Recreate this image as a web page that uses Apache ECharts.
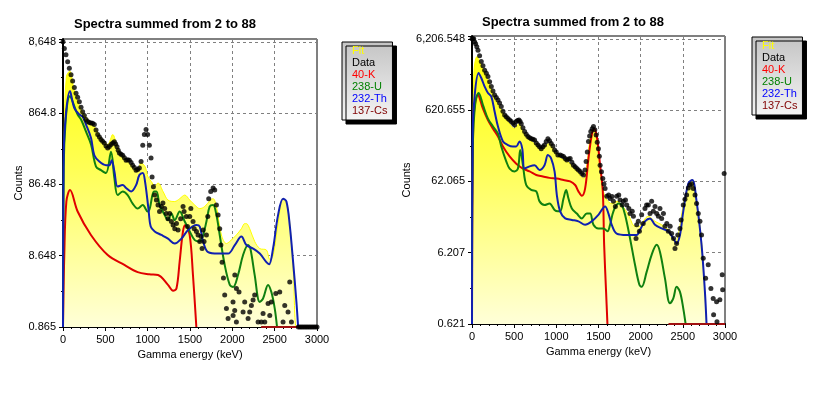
<!DOCTYPE html>
<html><head><meta charset="utf-8">
<script src="https://cdn.jsdelivr.net/npm/echarts@6/dist/echarts.min.js"></script>
<style>html,body{margin:0;padding:0;background:#fff}#c{width:817px;height:394px}</style>
</head><body><div id="c"></div>
<script>
// ---------- tick labels ----------
const xTicks = [0, 500, 1000, 1500, 2000, 2500, 3000];
const leftTickLabels = ['0.865', '8.648', '86.48', '864.8', '8,648'];
const rightTickLabels = ['0.621', '6.207', '62.065', '620.655', '6,206.548'];
const leftBase = 0.8648;
const rightBase = 0.6206548;
const titleText = 'Spectra summed from 2 to 88';
const legendNames = ['Fit', 'Data', '40-K', '238-U', '232-Th', '137-Cs'];
const legendColors = ['#ffff00', '#000000', '#ff0000', '#008000', '#0000ff', '#800000'];

// ---------- LEFT chart (energy keV, counts) ----------
const lDataE = [0,16,35,55,75,95,114,134,154,173,
193,213,232,252,272,291,311,330,350,370,
390,410,430,449,468,488,508,528,547,567,
587,607,622,638,652,666,685,705,725,745,
764,784,804,823,843,863,882,902,922,942,
961,981,1000,1020,1040,1052,1068,1083,1103,1122,
1140,1162,1180,1201,1220,1240,1260,1280,1300,1320,
1340,1359,1390,1418,1430,1457,1470,1497,1510,1536,
1550,1576,1595,1615,1630,1643,1655,1666,1694,1710,
1721,1745,1773,1792,1812,1832,1851,1865,1879,1895,
1910,1930,1950,2008,2009,2028,2029,2048,2048,2079,
2127,2146,2186,2205,2225,2245,2264,2304,2343,2363,
2383,2422,2442,2461,2513,2560,2599,2619,2658,2678,
2698,2780,2800,2820,2840,2860,2880,2900,2920,2940,
2960,2980,3000];
const lDataC = [8648,7000,5718,4538,3693,3000,2438,1984,1650,1450,
1252,1050,906,800,703,660,641,630,626,598,
500,433,400,369,350,329,300,280,295,314,
330,344,320,293,260,238,230,222,205,189,
192,189,175,161,150,137,140,147,181,307,
433,509,433,307,203,110,80,61.3,52.2,44.4,
36.1,42.4,47.6,39.6,33.7,28.6,33.7,26.1,23.3,20.7,
24.4,19.8,28.6,42.4,36.1,30.7,22.2,30.7,39.6,26.1,
20.7,18.9,16.9,13.7,16.1,10.9,19.8,13.7,16.9,30.7,
54.6,68.7,77.1,72.0,44.4,32.1,20.7,12.2,7.03,4.2,
2.44,1.57,1.14,1.94,1.25,1.47,4.63,3.00,1.016,2.67,
1.40,1.94,1.14,1.40,1.73,2.07,2.44,1.016,1.016,1.34,
1.016,1.85,1.25,1.94,2.55,2.67,1.016,1.73,1.40,3.69,
1.016,0.865,0.865,0.865,0.865,0.865,0.865,0.865,0.865,0.865,
0.865,0.865,0.865];

const lFitE = [0,15,40,79,134,213,291,370,449,528,
587,646,725,804,882,922,969,1004,1044,1083,
1122,1182,1240,1320,1378,1438,1497,1556,1615,1674,
1741,1773,1812,1871,1930,1969,2048,2107,2146,2166,
2205,2264,2324,2402,2442,2481,2540,2599,2658,2718,
2757,2800];
const lFitC = [0.865,500,2800,3368,1768,971,703,558,386,314,
433,280,203,161,137,173,154,110,95,81,
90.6,68.7,52.2,49.8,54.6,61.3,52.2,44.4,39.6,42.4,
52.2,54.6,42.4,16.9,12.8,13.7,16.9,20.7,24.4,24.4,
20.7,13.7,10.9,10.4,7.7,8.65,24.4,54.6,39.6,5.71,
0.865,0.865];

const lKE = [0,15,40,83,173,330,528,725,882,1020,
1122,1240,1300,1340,1378,1417,1445,1496,1535,1575];
const lKC = [0.865,8.65,50,72,36.1,16.9,8.85,6.41,5.08,4.74,
4.63,3.37,2.8,3.0,7.2,18.9,23.3,16.9,4.63,0.865];

const lUE = [0,8,83,173,213,272,331,390,449,508,
567,607,646,705,764,823,882,942,1000,1024,
1075,1103,1142,1201,1240,1280,1320,1378,1438,1497,
1556,1615,1655,1694,1733,1773,1812,1851,1910,1970,
2008,2067,2127,2186,2213,2264,2324,2363,2422,2461,
2501,2528];
const lUC = [0.865,150,1505,826,703,475,314,154,137,125,
249,106,61.3,68.7,61.3,46.5,39.6,44.4,36.1,39.6,
68.7,68.7,44.4,32.1,27.3,33.7,27.3,36.1,26.1,18.9,
14.3,13.7,16.9,26.1,42.4,44.4,32.1,16.9,6.41,3.37,
3.14,4.63,8.85,12.2,10.9,4.63,1.94,2.17,3.37,2.67,
1.57,0.865];

const lThE = [0,8,83,134,193,232,272,331,370,429,
508,548,575,607,646,705,745,804,863,902,
942,969,1009,1036,1083,1162,1240,1320,1398,1477,
1576,1615,1655,1714,1832,1950,2029,2107,2166,2245,
2324,2402,2434,2481,2540,2599,2639,2678,2718,2757,
2777];
const lThC = [0.865,222,1768,1017,826,771,598,386,222,181,
161,161,189,131,80.8,84.6,77.1,68.7,84.6,117,
125,94.9,39.6,22.2,18.9,16.9,15.0,12.8,15.0,19.8,
23.3,22.2,13.7,9.70,9.27,9.27,12.2,16.1,12.2,10.9,
9.27,7.03,6.56,10.9,32.1,54.6,49.8,23.3,7.03,1.94,
0.865];

const lCsE = [2340, 3000];
const lCsC = [0.865, 0.865];

// ---------- RIGHT chart ----------
const rDataE = [0,10,20,30,43,57,71,90,110,130,
150,170,189,209,229,249,268,288,308,327,
347,367,387,406,426,446,466,485,505,525,
540,557,570,584,604,624,643,663,683,703,
722,742,762,782,801,821,841,860,880,900,
919,939,959,979,999,1018,1045,1065,1085,1105,
1124,1144,1164,1184,1203,1223,1243,1262,1282,1302,
1322,1340,1353,1367,1381,1395,1409,1425,1440,1456,
1472,1485,1499,1510,1519,1535,1551,1565,1578,1598,
1620,1637,1660,1677,1700,1716,1740,1756,1780,1795,
1820,1835,1860,1874,1900,1914,1945,1953,1972,1985,
2012,2030,2051,2070,2091,2111,2130,2150,2170,2190,
2210,2229,2249,2270,2288,2310,2328,2350,2367,2390,
2407,2426,2440,2466,2480,2505,2525,2545,2565,2584,
2604,2624,2645,2663,2683,2703,2722,2742,2770,2801,
2833,2860,2865,2900,2905,2939,2967,2972,2990];
const rDataC = [6207,6207,6207,5661,5300,4800,4302,3600,2976,2600,
2257,2050,1835,1550,1329,1150,1008,930,858,780,
697,600,529,500,472,450,430,405,383,430,
445,450,430,401,350,311,285,265,255,247,
242,236,215,201,190,179,190,201,225,247,
230,211,195,171,160,146,146,142,139,130,
124,128,130,115,105,100,94,90,85.7,80,
76.4,90,118,160,226,270,311,340,366,330,
277,220,179,140,105,85,68.1,57,49.3,38.3,
40.1,35.7,38,32.6,27.7,38.3,40.1,34.1,29.0,32.6,
34.1,29.0,25.9,22.0,23.6,20.1,9.84,15.3,17.1,12.4,
21.1,16.0,25.9,29.0,29.0,22.0,32.6,23.6,27.7,22.0,
20.1,25.9,18.8,22.0,14.6,16.0,12.4,14.6,11.5,9.84,
7.13,8.38,11.0,13.6,17.9,29.0,35,40.1,50,55.3,
57,49.3,40,30.4,22,17.1,11.0,5.17,2.71,4.20,
1.96,1.42,0.838,1.27,0.665,1.36,3.04,1.88,80.0];

const rFitE = [0,20,59,110,189,268,347,426,505,557,
604,683,762,821,880,919,979,1018,1085,1164,
1243,1322,1361,1401,1440,1480,1519,1559,1598,1657,
1716,1776,1855,1933,1993,2012,2091,2170,2249,2328,
2407,2446,2505,2565,2604,2643,2703,2742,2781];
const rFitC = [0.621,1835,3497,2652,1635,919,621,430,341,401,
311,236,201,171,201,211,163,139,124,110,
85.7,68.1,105,247,326,247,94.0,45.0,34.1,30.4,
32.6,29.0,21.1,14.6,14.6,16.0,20.1,17.1,15.3,13.0,
8.77,11.0,29.0,55.3,65.0,45.0,15.3,4.20,0.621];

const rKE = [0,15,71,130,189,249,308,367,446,525,
604,683,762,841,919,1006,1085,1164,1223,1262,
1302,1341,1381,1420,1448,1480,1519,1551,1567,1590,
1606];
const rKC = [0.621,411,1031,650,450,341,265,192,139,110,
94.0,85.7,76.4,72.9,69.6,68.1,65.0,62.1,55.3,45.0,
39.1,49.3,130,277,341,265,105,45.0,8.00,1.75,
0.621];

const rUE = [0,10,40,79,130,189,249,308,347,407,
446,505,545,572,604,643,703,762,801,860,
919,979,1018,1045,1085,1116,1144,1184,1243,1302,
1361,1401,1440,1499,1559,1606,1637,1677,1736,1776,
1815,1874,1933,1985,2012,2071,2130,2190,2229,2288,
2347,2387,2426,2466,2505,2533];
const rUC = [2.20,200,800,1080,730,472,366,290,192,118,
94.0,85.7,94.0,171,105,55.3,47.1,45.0,32.6,29.0,
30.4,24.7,23.6,23.6,35.7,47.1,35.7,25.9,22.0,18.8,
22.0,22.0,15.3,13.6,13.6,12.4,15.3,23.6,30.4,29.0,
21.1,9.84,4.20,2.20,2.06,3.34,5.80,8.00,6.35,2.71,
1.21,1.42,2.06,1.75,1.03,0.621];

const rThE = [0,8,79,110,150,189,229,268,308,367,
426,485,525,564,596,624,683,742,801,860,
900,939,979,1006,1045,1105,1184,1262,1341,1420,
1499,1578,1618,1657,1716,1835,1953,1992,2051,2111,
2170,2249,2328,2387,2426,2466,2505,2565,2612,2663,
2722,2762,2781];
const rThC = [0.621,297,2059,1752,1329,1080,962,594,366,226,
201,192,192,226,179,94.0,101,105,89.8,105,
146,130,85.7,40,23.6,18.8,17.9,17.1,15.3,17.1,
21.1,27.7,22.0,15.3,11.5,11.0,11.0,13.0,17.1,18.8,
15.3,13.6,12.4,9.84,8.38,11.0,23.6,57.9,65.0,32.6,
8.00,1.75,0.621];

const rCsE = [2330, 3000];
const rCsC = [0.621, 0.621];

// ---------- build ----------
const FONT = '"Liberation Sans", Arial, sans-serif';
function toLog(E, C, base) {
  return E.map((e, i) => [e, Math.max(0, Math.log10(C[i] / base))]);
}
const gridsPx = [
  { left: 63, top: 39, width: 254, height: 288 },
  { left: 472, top: 36, width: 253, height: 288 }
];
function xAxisFor(gi) {
  return {
    type: 'value', gridIndex: gi, min: xTicks[0], max: xTicks[xTicks.length - 1],
    interval: xTicks[1] - xTicks[0],
    name: 'Gamma energy (keV)', nameLocation: 'middle', nameGap: 22,
    nameTextStyle: { color: '#000', fontSize: 11, fontFamily: FONT },
    axisLine: { show: true, onZero: false, lineStyle: { color: '#000', width: 2 } },
    axisTick: { show: true, length: 4, lineStyle: { color: '#000' } },
    minorTick: { show: true, splitNumber: 5, length: 2, lineStyle: { color: '#000' } },
    axisLabel: { color: '#000', fontSize: 11, fontFamily: FONT, margin: 7,
      formatter: function (v) { return String(Math.round(v)); } },
    splitLine: { show: true, lineStyle: { color: '#808080', type: [3, 3], width: 1 } }
  };
}
function yAxisFor(gi, labels, gap) {
  return {
    type: 'value', gridIndex: gi, min: 0, max: 4.04, interval: 1,
    name: 'Counts', nameLocation: 'middle', nameGap: gap,
    nameTextStyle: { color: '#000', fontSize: 11, fontFamily: FONT },
    axisLine: { show: true, onZero: false, lineStyle: { color: '#000', width: 2 } },
    axisTick: { show: true, length: 4, lineStyle: { color: '#000' } },
    minorTick: { show: true, splitNumber: 2, length: 2, lineStyle: { color: '#000' } },
    axisLabel: {
      color: '#000', fontSize: 11, fontFamily: FONT, margin: 7,
      formatter: function (v) {
        const k = Math.round(v);
        return Math.abs(v - k) < 1e-6 && labels[k] !== undefined ? labels[k] : '';
      }
    },
    splitLine: { show: true, lineStyle: { color: '#808080', type: [3, 3], width: 1 } }
  };
}
function areaGrad(g) {
  return new echarts.graphic.LinearGradient(0, g.top, 0, g.top + g.height, [
    { offset: 0, color: '#ffff00' },
    { offset: 0.45, color: '#ffff55' },
    { offset: 1, color: '#ffffd8' }
  ], true);
}
function seriesFor(gi, base, d) {
  const common = { xAxisIndex: gi, yAxisIndex: gi, symbol: 'none', smooth: 0.35, animation: false };
  return [
    Object.assign({}, common, {
      name: 'Fit', type: 'line', data: toLog(d.fitE, d.fitC, base), z: 1,
      lineStyle: { color: '#ffff00', width: 1 }, itemStyle: { color: '#ffff00' },
      areaStyle: { color: areaGrad(gridsPx[gi]), opacity: 1, origin: 'start' }
    }),
    Object.assign({}, common, {
      name: '40-K', type: 'line', data: toLog(d.kE, d.kC, base), z: 3,
      lineStyle: { color: '#e00000', width: 2 }, itemStyle: { color: '#ff0000' }
    }),
    Object.assign({}, common, {
      name: '238-U', type: 'line', data: toLog(d.uE, d.uC, base), z: 3,
      lineStyle: { color: '#108010', width: 2 }, itemStyle: { color: '#008000' }
    }),
    Object.assign({}, common, {
      name: '232-Th', type: 'line', data: toLog(d.thE, d.thC, base), z: 3,
      lineStyle: { color: '#1020b0', width: 2 }, itemStyle: { color: '#0000ff' }
    }),
    Object.assign({}, common, {
      name: '137-Cs', type: 'line', data: toLog(d.csE, d.csC, base), z: 3, smooth: false,
      lineStyle: { color: '#a01010', width: 2 }, itemStyle: { color: '#800000' }
    }),
    {
      name: 'Data', type: 'scatter', xAxisIndex: gi, yAxisIndex: gi, z: 5, animation: false,
      symbol: 'circle', symbolSize: 5, itemStyle: { color: '#000' },
      data: toLog(d.dE, d.dC, base)
    }
  ];
}
function legendFor(left, top) {
  return {
    orient: 'vertical', left: left, top: top, itemWidth: 0, itemHeight: 0, itemGap: 0,
    padding: [3, 5, 3, 5], selectedMode: false, icon: 'rect',
    backgroundColor: new echarts.graphic.LinearGradient(0, 0, 0, 1, [
      { offset: 0, color: '#c4c4c4' }, { offset: 1, color: '#f4f4f4' }
    ]),
    borderColor: '#000', borderWidth: 1,
    shadowColor: '#000', shadowBlur: 0, shadowOffsetX: 4, shadowOffsetY: 4,
    textStyle: { fontSize: 11, fontFamily: FONT, lineHeight: 12 },
    data: legendNames.map((n, i) => ({ name: n, textStyle: { color: legendColors[i] } }))
  };
}

const chart = echarts.init(document.getElementById('c'), null, { renderer: 'canvas' });
chart.setOption({
  backgroundColor: '#fff',
  animation: false,
  graphic: [
    { type: 'text', x: 165, y: 24, style: { text: titleText, font: 'bold 13px ' + FONT, fill: '#000', align: 'center', verticalAlign: 'middle' } },
    { type: 'text', x: 573, y: 22, style: { text: titleText, font: 'bold 13px ' + FONT, fill: '#000', align: 'center', verticalAlign: 'middle' } }
  ],
  legend: [legendFor(342, 42), legendFor(752, 37)],
  grid: gridsPx.map(g => Object.assign({ show: true, borderColor: '#000', borderWidth: 1, backgroundColor: '#fff', containLabel: false }, g)),
  xAxis: [xAxisFor(0), xAxisFor(1)],
  yAxis: [yAxisFor(0, leftTickLabels, 37), yAxisFor(1, rightTickLabels, 39)],
  series: [].concat(
    seriesFor(0, leftBase, { fitE: lFitE, fitC: lFitC, kE: lKE, kC: lKC, uE: lUE, uC: lUC, thE: lThE, thC: lThC, csE: lCsE, csC: lCsC, dE: lDataE, dC: lDataC }),
    seriesFor(1, rightBase, { fitE: rFitE, fitC: rFitC, kE: rKE, kC: rKC, uE: rUE, uC: rUC, thE: rThE, thC: rThC, csE: rCsE, csC: rCsC, dE: rDataE, dC: rDataC })
  )
});
</script></body></html>
